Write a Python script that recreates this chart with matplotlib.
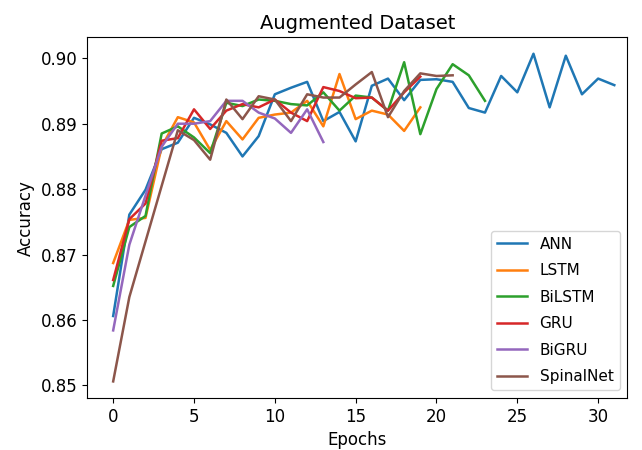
import numpy as np
import matplotlib
matplotlib.use('Agg')
import matplotlib.pyplot as plt

# accuracy per epoch
ann = [0.8606, 0.8761, 0.8799, 0.8861, 0.8871, 0.8909, 0.8899, 0.8886, 0.8850, 0.8881,
       0.8945, 0.8955, 0.8964, 0.8904, 0.8918, 0.8873, 0.8958, 0.8969, 0.8936, 0.8967,
       0.8968, 0.8964, 0.8924, 0.8917, 0.8973, 0.8948, 0.9007, 0.8925, 0.9004, 0.8945,
       0.8969, 0.8959]
lstm = [0.8687, 0.8753, 0.8756, 0.8865, 0.8910, 0.8902, 0.8860, 0.8904, 0.8876, 0.8909,
        0.8914, 0.8917, 0.8935, 0.8896, 0.8976, 0.8907, 0.8920, 0.8914, 0.8889, 0.8925]
bilstm = [0.8652, 0.8742, 0.8759, 0.8885, 0.8896, 0.8879, 0.8855, 0.8932, 0.8927, 0.8937,
          0.8935, 0.8930, 0.8928, 0.8948, 0.8920, 0.8943, 0.8940, 0.8920, 0.8994, 0.8884,
          0.8953, 0.8991, 0.8974, 0.8935]
gru = [0.8661, 0.8754, 0.8778, 0.8874, 0.8878, 0.8922, 0.8892, 0.8920, 0.8930, 0.8925,
       0.8937, 0.8917, 0.8904, 0.8956, 0.8950, 0.8939, 0.8940, 0.8920, 0.8948, 0.8972]
bigru = [0.8584, 0.8715, 0.8790, 0.8865, 0.8900, 0.8900, 0.8904, 0.8935, 0.8935, 0.8917,
         0.8908, 0.8886, 0.8922, 0.8872]
spinal = [0.8506, 0.8635, 0.8720, 0.8805, 0.8890, 0.8875, 0.8845, 0.8937, 0.8907, 0.8942,
          0.8937, 0.8904, 0.8945, 0.8940, 0.8940, 0.8960, 0.8979, 0.8910, 0.8950, 0.8977,
          0.8973, 0.8974]

series = [('ANN', ann), ('LSTM', lstm), ('BiLSTM', bilstm),
          ('GRU', gru), ('BiGRU', bigru), ('SpinalNet', spinal)]

plt.rcParams['font.size'] = 12

fig = plt.figure(figsize=(6.42, 4.5), dpi=100)
ax = fig.add_subplot(111)
fig.subplots_adjust(left=0.136, right=0.977, top=0.917, bottom=0.116)

for name, vals in series:
    ax.plot(np.arange(len(vals)), vals, label=name, linewidth=1.8)

ax.set_xlim(-1.6, 31.8)
ax.set_title('Augmented Dataset', fontsize=14)
ax.set_xlabel('Epochs')
ax.set_ylabel('Accuracy')
ax.legend(loc='lower right', fontsize=11, labelspacing=0.75)

plt.savefig('out.png', dpi=100)
